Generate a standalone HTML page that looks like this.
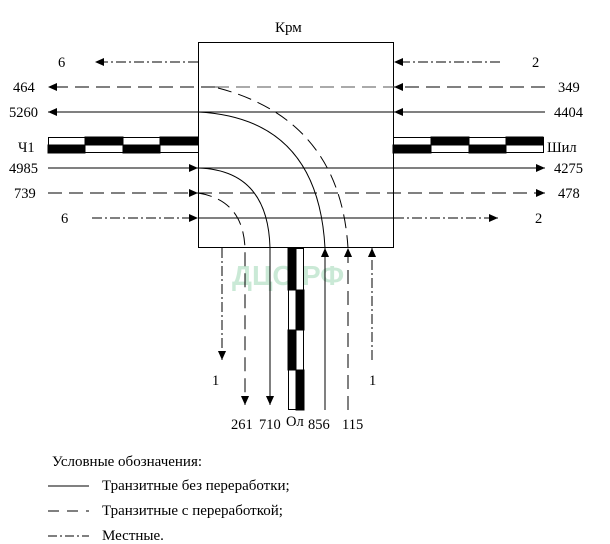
<!DOCTYPE html>
<html><head><meta charset="utf-8"><style>
html,body{margin:0;padding:0;background:#fff;}
svg{display:block;}
text{font-family:"Liberation Serif","DejaVu Serif",serif;font-size:14.5px;fill:#000;}
</style></head><body>
<svg width="610" height="544" viewBox="0 0 610 544" xmlns="http://www.w3.org/2000/svg">
<defs>
<marker id="a" viewBox="0 0 10 10" refX="10" refY="5" markerWidth="11" markerHeight="9" markerUnits="userSpaceOnUse" orient="auto"><path d="M0,0.5 L10,5 L0,9.5 z" fill="#000"/></marker>
</defs>
<text x="232" y="285" style="font-family:'Liberation Sans',sans-serif;font-size:28px;font-weight:bold;fill:#a8dcbc;opacity:0.6">ДЦО.РФ</text>
<rect x="198.5" y="42.5" width="195" height="205" fill="none" stroke="#000" stroke-width="1"/>
<text x="275" y="32" style="font-size:15px">Крм</text>
<g stroke="#000" stroke-width="1" fill="none">
<line x1="198" y1="62" x2="95" y2="62" stroke-dasharray="10,3,2,3" marker-end="url(#a)"/>
<line x1="215" y1="87" x2="48" y2="87" stroke-dasharray="14,7" marker-end="url(#a)"/>
<line x1="198" y1="112" x2="48" y2="112" marker-end="url(#a)"/>
<line x1="500" y1="62" x2="394" y2="62" stroke-dasharray="10,3,2,3" marker-end="url(#a)"/>
<line x1="545" y1="87" x2="394" y2="87" stroke-dasharray="14,7" marker-end="url(#a)"/>
<line x1="545" y1="112" x2="394" y2="112" marker-end="url(#a)"/>
<line x1="215" y1="87" x2="394" y2="87" stroke-dasharray="14,7" stroke="#555"/>
<line x1="198" y1="112" x2="394" y2="112"/>
<line x1="48" y1="168" x2="198" y2="168" marker-end="url(#a)"/>
<line x1="48" y1="193" x2="198" y2="193" stroke-dasharray="14,7" marker-end="url(#a)"/>
<line x1="92" y1="218" x2="198" y2="218" stroke-dasharray="10,3,2,3" marker-end="url(#a)"/>
<line x1="198" y1="168" x2="545" y2="168" marker-end="url(#a)"/>
<line x1="198" y1="193" x2="545" y2="193" stroke-dasharray="14,7" marker-end="url(#a)"/>
<line x1="198" y1="218" x2="394" y2="218"/>
<line x1="394" y1="218" x2="498" y2="218" stroke-dasharray="10,3,2,3" marker-end="url(#a)"/>
<path d="M198,112 Q318,118 325,248"/>
<path d="M218,88 Q340,120 348,248" stroke-dasharray="14,7"/>
<path d="M198,168 Q268,170 270,248 L270,405" marker-end="url(#a)"/>
<path d="M198,193 Q243,200 245,248 L245,405" stroke-dasharray="14,7" marker-end="url(#a)"/>
<line x1="325" y1="410" x2="325" y2="248" marker-end="url(#a)"/>
<line x1="348" y1="410" x2="348" y2="248" stroke-dasharray="14,7" marker-end="url(#a)"/>
<line x1="372" y1="360" x2="372" y2="248" stroke-dasharray="10,3,2,3" marker-end="url(#a)"/>
<line x1="222" y1="248" x2="222" y2="360" stroke-dasharray="10,3,2,3" marker-end="url(#a)"/>
<line x1="48" y1="486" x2="89" y2="486"/>
<line x1="48" y1="511" x2="89" y2="511" stroke-dasharray="11,8"/>
<line x1="48" y1="536" x2="89" y2="536" stroke-dasharray="9,3,2,3"/>
</g>
<g stroke="#000" stroke-width="1">
<rect x="48.5" y="137.5" width="150" height="15" fill="#fff"/>
<rect x="85" y="137" width="38" height="8" fill="#000"/>
<rect x="160" y="137" width="38" height="8" fill="#000"/>
<rect x="48" y="145" width="37" height="8" fill="#000"/>
<rect x="123" y="145" width="37" height="8" fill="#000"/>
<rect x="393.5" y="137.5" width="150" height="15" fill="#fff"/>
<rect x="431" y="137" width="38" height="8" fill="#000"/>
<rect x="506" y="137" width="37" height="8" fill="#000"/>
<rect x="393" y="145" width="38" height="8" fill="#000"/>
<rect x="469" y="145" width="37" height="8" fill="#000"/>
<rect x="288.5" y="248.5" width="15" height="161" fill="#fff"/>
<rect x="288" y="248" width="8" height="42" fill="#000"/>
<rect x="296" y="290" width="8" height="40" fill="#000"/>
<rect x="288" y="330" width="8" height="40" fill="#000"/>
<rect x="296" y="370" width="8" height="40" fill="#000"/>
</g>
<text x="58" y="67">6</text>
<text x="13" y="92">464</text>
<text x="9" y="117">5260</text>
<text x="18" y="152">Ч1</text>
<text x="9" y="173">4985</text>
<text x="14" y="198">739</text>
<text x="61" y="223">6</text>
<text x="532" y="67">2</text>
<text x="558" y="92">349</text>
<text x="554" y="117">4404</text>
<text x="547" y="152">Шил</text>
<text x="554" y="173">4275</text>
<text x="558" y="198">478</text>
<text x="535" y="223">2</text>
<text x="212" y="385">1</text>
<text x="369" y="385">1</text>
<text x="231" y="429">261</text>
<text x="259" y="429">710</text>
<text x="286" y="426">Ол</text>
<text x="308" y="429">856</text>
<text x="342" y="429">115</text>
<text x="52" y="466" style="font-size:15px">Условные обозначения:</text>
<text x="102" y="490" style="font-size:15px">Транзитные без переработки;</text>
<text x="102" y="515" style="font-size:15px">Транзитные с переработкой;</text>
<text x="102" y="540" style="font-size:15px">Местные.</text>
</svg>
</body></html>
